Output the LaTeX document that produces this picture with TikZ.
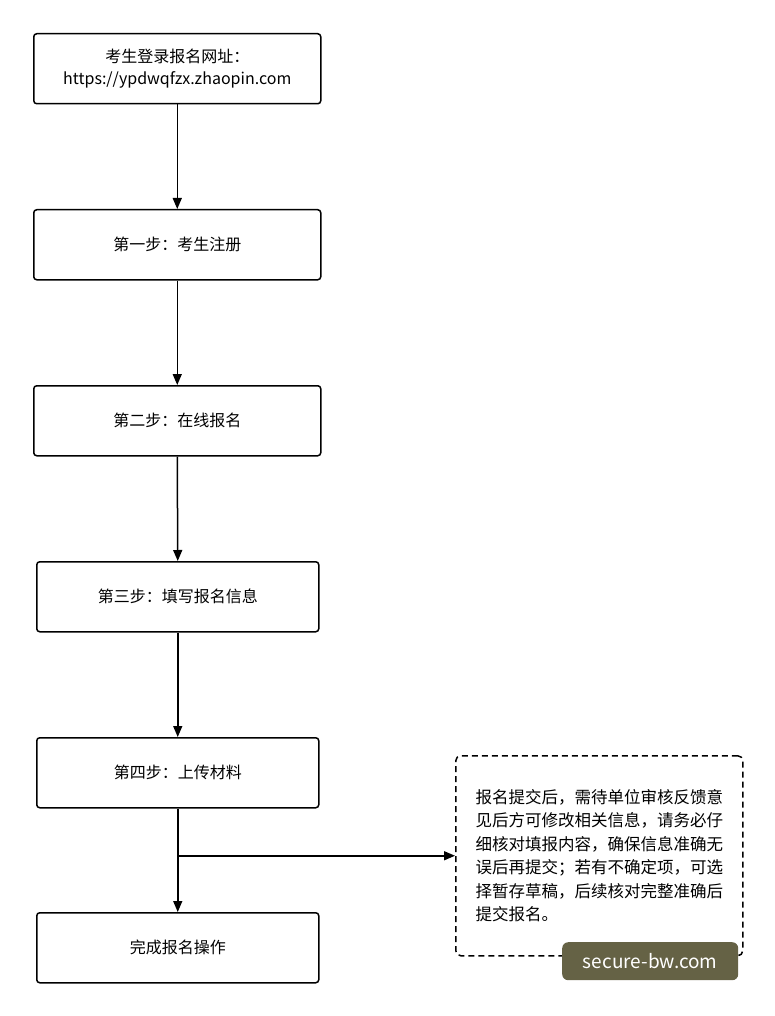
\documentclass[tikz,border=0pt]{standalone}
\usepackage{fontspec}
\setmainfont{Noto Sans CJK SC}
\usetikzlibrary{arrows.meta}
\begin{document}
\begin{tikzpicture}[x=1pt,y=-1pt,
  box/.style={draw,line width=1.5pt,rounded corners=3pt,minimum width=287pt,minimum height=70pt,align=center,font=\fontsize{16}{22}\selectfont,anchor=north west},
  arr/.style={line width=1.5pt,-{Triangle[length=11pt,width=9pt]}}]
\useasboundingbox (0,0) rectangle (775,1016);
\node[box] (a) at (33,33) {考生登录报名网址：\\https://ypdwqfzx.zhaopin.com};
\node[box] (b) at (33,209) {第一步：考生注册};
\node[box] (c) at (33,385) {第二步：在线报名};
\node[box,minimum width=282pt] (d) at (36,561) {第三步：填写报名信息};
\node[box,minimum width=282pt] (e) at (36,737) {第四步：上传材料};
\node[box,minimum width=282pt] (f) at (36,912) {完成报名操作};
\node[draw,line width=1.5pt,dash pattern=on 6pt off 4pt,rounded corners=5pt,minimum width=287pt,minimum height=200pt,anchor=north west,align=left,font=\fontsize{16.5}{23.5}\selectfont] (n) at (455,755) {报名提交后，需待单位审核反馈意\\见后方可修改相关信息，请务必仔\\细核对填报内容，确保信息准确无\\误后再提交；若有不确定项，可选\\择暂存草稿，后续核对完整准确后\\提交报名。};
\draw[arr] (a.south) -- (b.north);
\draw[arr] (b.south) -- (c.north);
\draw[arr] (c.south) -- (d.north);
\draw[arr] (d.south) -- (e.north);
\draw[arr] (e.south) -- (f.north);
\coordinate (j) at (e.south |- n.west);
\draw[arr] (j) -- (n.west);
\node[fill=black!55!olive!70!gray,rounded corners=6pt,minimum width=176pt,minimum height=38pt,text=white,font=\fontsize{19}{22}\selectfont,anchor=north west] (w) at (562,942) {secure-bw.com};
\end{tikzpicture}
\end{document}
